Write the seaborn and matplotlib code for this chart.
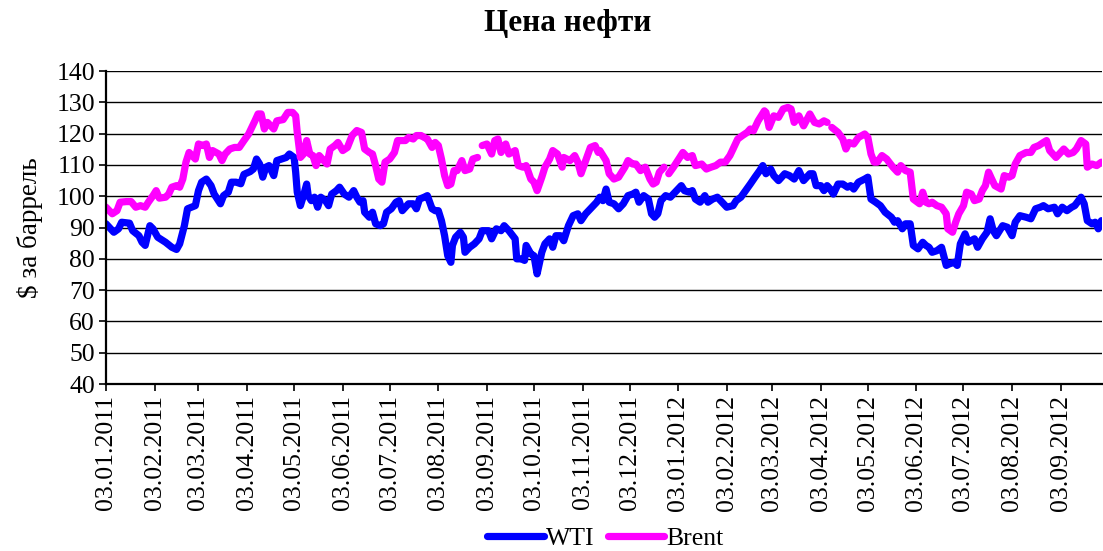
import numpy as np
import pandas as pd
import matplotlib
matplotlib.use("Agg")
import matplotlib.pyplot as plt
from matplotlib.lines import Line2D
import seaborn as sns

# ---------------- data ----------------
start_date = "2011-01-03"

wti_day = [0, 5, 8, 10, 15, 17, 21, 23, 25, 28, 30, 33, 38, 42, 45, 47, 50, 52, 57, 59, 61, 64, 67, 69, 73, 75,
           78, 80, 83, 86, 88, 92, 94, 96, 98, 100, 102, 104,
           107, 109, 112, 115, 117, 120, 121, 122, 124, 126, 128, 129, 131, 133, 135, 137, 140, 142, 144, 147, 149,
           152, 155, 158, 160, 162, 164, 165, 168, 170, 172, 175, 177, 179, 182, 185, 187, 189, 193, 196, 198, 200,
           203, 205, 208, 210,
           212, 214, 216, 218, 220, 221, 223, 226, 228, 229, 232, 235, 238, 240, 244, 246, 249, 252, 254, 257, 261,
           262, 265, 267, 268, 271, 273, 275, 278, 280, 283, 285, 287, 290, 292, 295, 298, 301, 303, 306, 309, 313, 315,
           317, 319, 321, 324, 327, 330, 333, 336, 338, 340, 343, 346, 348, 350, 352, 354, 357, 360, 364, 367, 369,
           372, 374, 376, 379, 382, 384, 387, 390, 393, 396, 400, 402, 405, 408, 411, 414, 417, 419,
           421, 424, 426, 429, 433, 436, 439, 442, 445, 449, 451, 453, 456, 458, 460, 462, 464, 467, 470, 473, 475,
           477, 480, 484, 486, 488, 491, 494, 497, 501, 503, 505, 508, 510, 513, 515, 518, 521, 523, 525,
           527, 530, 533, 536, 538, 541, 543, 545, 548, 550, 554, 556, 559, 562, 564, 566, 568, 572, 575, 578, 580,
           583, 587, 590, 593, 596, 598, 601, 605, 607, 610, 613, 616, 618, 622, 624, 626, 629, 631, 633, 635]
wti_val = [91.2, 88.5, 89.6, 91.7, 91.4, 89.0, 87.4, 85.3, 84.3, 90.6, 89.6, 86.9, 85.3, 83.7, 83.0, 84.8, 90.6, 96.0,
           97.0, 101.8, 104.5, 105.5, 103.4, 100.7, 97.6, 100.2, 101.3, 104.5, 104.5, 104.0, 107.0, 107.9, 108.7,
           111.9, 110.3, 106.1, 109.3, 109.8,
           106.6, 111.4, 111.9, 112.4, 113.5, 112.4, 107.7, 101.3, 97.0, 100.2, 103.9, 100.2, 98.6, 99.7, 96.5, 99.7,
           98.6, 97.0, 100.7, 101.8, 102.9, 100.7, 99.7, 101.8, 99.7, 98.1, 98.6, 94.9, 93.3, 94.9, 91.2, 90.6, 91.2,
           94.9, 96.0, 98.1, 98.6, 95.4, 97.6, 97.6, 96.0, 99.1, 99.7, 100.2, 96.0, 95.4,
           95.4, 92.2, 87.4, 81.0, 78.9, 84.3, 86.9, 88.5, 86.9, 82.1, 83.7, 84.8, 86.4, 89.0, 89.0, 86.4, 89.6, 89.0,
           90.6, 89.0, 86.4, 80.0, 80.0, 79.5, 84.3, 81.6, 81.0, 75.2, 82.1, 84.8, 86.4, 83.7, 87.4, 87.4, 85.8, 90.6,
           93.8, 94.4, 92.2, 94.4, 96.0, 98.1, 99.7,
           98.6, 102.3, 98.1, 97.6, 96.0, 97.6, 100.2, 100.7, 101.3, 98.1, 100.2, 99.1, 94.4, 93.3, 94.4, 98.6, 100.2,
           99.7, 101.8, 103.4, 101.8, 101.3, 101.8, 99.1, 98.1, 100.2, 98.1, 99.1, 99.7, 98.1, 96.5, 97.0, 98.6, 99.7,
           101.8, 103.9, 106.1, 108.2, 109.8,
           107.2, 108.7, 106.6, 105.0, 107.2, 106.6, 105.5, 108.2, 105.0, 107.2, 107.2, 103.4, 103.4, 101.8, 103.4,
           102.3, 100.7, 103.9, 103.9, 102.9, 103.4, 102.3, 104.5, 105.5, 106.1, 99.1, 98.1, 97.0, 94.9, 93.3, 91.7,
           92.2, 89.6, 91.2, 91.2, 84.3, 83.2, 85.3, 84.3, 83.7,
           82.1, 82.6, 83.7, 77.9, 78.4, 78.9, 77.9, 84.8, 88.0, 85.3, 86.4, 83.7, 86.4, 88.5, 92.8, 89.0, 87.4, 90.6,
           90.1, 87.4, 91.7, 93.8, 93.3, 92.8, 96.0, 96.5, 97.0, 96.0, 96.5, 94.4, 96.5, 95.4, 96.5, 97.0, 99.7, 97.6,
           92.2, 91.2, 91.7, 89.6, 92.2]

brent_day = [0, 4, 7, 9, 13, 16, 19, 22, 25, 27, 30, 32, 34, 38, 40, 42, 45, 47, 49, 51, 53, 57, 59, 62, 64, 66, 68,
             72, 74, 76, 79, 82, 85, 88, 91, 93, 95, 97, 99, 101, 103,
             107, 109, 113, 116, 119, 121, 122, 124, 126, 128, 130, 132, 134, 136, 138, 141, 143, 146, 148, 151, 154,
             157, 160, 163, 165, 168, 170, 172, 174, 176, 178, 181, 184, 186, 191, 193, 196, 198, 201, 203, 205, 208,
             210,
             212, 214, 216, 218, 220, 222, 224, 227, 229, 232, 234, 237, 238, 240, 243, 246, 248, 250, 252, 255, 257,
             261, 263, 266, 268, 271, 273, 275, 278, 280, 283, 285, 288, 291, 292, 296, 299, 301, 303, 306, 309, 312,
             314, 315,
             317, 319, 321, 324, 327, 331, 333, 336, 338, 341, 344, 347, 349, 351, 353, 356, 358, 359, 362, 366, 368,
             371, 374, 376, 380, 383, 386, 389, 392, 395, 398, 400, 403, 406, 409, 411, 413, 416, 418, 420,
             421, 423, 426, 429, 432, 435, 437, 439, 442, 445, 449, 452, 455, 458, 460, 461, 463, 467, 470, 472, 474,
             477, 480, 484, 486, 488, 490, 492, 495, 498, 502, 505, 507, 510, 513, 515, 519, 521, 523, 525,
             527, 530, 533, 536, 537, 540, 542, 544, 547, 549, 552, 554, 557, 559, 561, 563, 565, 567, 571, 573, 576,
             578, 580, 583, 587, 590, 592, 595, 598, 600, 602, 606, 609, 611, 614, 617, 619, 622, 625, 626, 629, 632,
             635]
brent_val = [96.5, 94.4, 95.4, 98.1, 98.3, 98.3, 96.5, 97.0, 96.5, 98.1, 100.2, 101.8, 99.4, 99.7, 100.7, 102.9, 103.4,
             102.9, 105.5, 110.9, 114.0, 111.9, 116.7, 116.2, 116.7, 112.4, 114.6, 113.5, 111.4, 113.5, 115.1, 115.6,
             115.6, 117.8, 119.9, 122.0, 124.1, 126.3, 126.3, 121.5, 123.6,
             121.5, 124.1, 124.5, 126.8, 126.8, 125.7, 120.4, 112.4, 113.5, 117.8, 113.5, 113.0, 109.8, 113.0, 111.9,
             110.3, 115.1, 116.2, 117.2, 114.6, 115.6, 119.4, 121.0, 120.4, 115.1, 114.0, 113.5, 109.8, 105.5, 104.5,
             110.9, 111.9, 114.0, 117.8, 117.8, 118.8, 118.3, 119.4, 119.4, 118.8, 118.3, 115.6, 117.2,
             116.2, 111.9, 106.6, 103.4, 103.9, 108.2, 108.2, 111.4, 108.2, 108.7, 111.9, 112.4, None, 116.2, 116.7,
             113.5, 117.8, 118.3, 114.0, 116.7, 113.5, 114.6, 109.8, 109.3, 109.8, 105.5, 104.5, 101.8, 106.1, 109.3,
             111.9, 114.6, 113.5, 109.3, 112.4, 111.4, 113.0, 110.9, 107.2, 111.4, 115.6, 116.2, 114.0, 114.6,
             113.0, 111.4, 107.2, 105.5, 106.1, 109.3, 111.4, 110.3, 110.3, 108.2, 109.3, 105.5, 103.9, 104.5, 107.7,
             109.3, None, 107.2, 109.3, 112.4, 114.0, 112.4, 113.0, 109.8, 110.3, 108.7, 109.3, 109.8, 110.9, 110.9,
             113.0, 115.1, 118.3, 119.4, 120.4, 121.5, 120.9, 124.1, 125.7, 127.3,
             126.8, 122.0, 125.7, 125.2, 127.9, 128.4, 127.9, 123.6, 125.7, 122.5, 126.3, 123.6, 123.1, 124.1, 123.6,
             None, 122.0, 120.4, 118.3, 115.1, 117.2, 116.7, 118.8, 119.9, 118.8, 113.5, 110.9, 110.9, 113.0, 111.9,
             109.3, 107.7, 109.8, 108.2, 107.7, 99.1, 97.6, 101.3, 98.1, 97.6,
             98.1, 97.0, 96.5, 94.4, 89.6, 88.5, 91.7, 94.4, 97.0, 101.3, 100.7, 98.6, 99.1, 101.8, 103.4, 107.7, 105.5,
             103.4, 102.3, 106.6, 106.1, 106.6, 110.3, 113.0, 114.0, 114.0, 115.6, 116.2, 117.2, 117.8, 114.6, 112.4,
             114.0, 115.1, 113.5, 114.0, 115.1, 117.8, 116.7, 109.3, 110.3, 109.8, 110.9]

series_names = ["WTI", "Brent"]
series_colors = ["#0000FF", "#FF00FF"]

tick_labels = ["03.01.2011", "03.02.2011", "03.03.2011", "03.04.2011", "03.05.2011", "03.06.2011",
               "03.07.2011", "03.08.2011", "03.09.2011", "03.10.2011", "03.11.2011", "03.12.2011",
               "03.01.2012", "03.02.2012", "03.03.2012", "03.04.2012", "03.05.2012", "03.06.2012",
               "03.07.2012", "03.08.2012", "03.09.2012"]
y_ticks = [40, 50, 60, 70, 80, 90, 100, 110, 120, 130, 140]

title = "Цена нефти"
y_label = "$ за баррель"

# ---------------- build frames ----------------
t0 = pd.Timestamp(start_date)


def make_frame(days, vals, name):
    df = pd.DataFrame({"day": days, "value": [np.nan if v is None else v for v in vals]})
    df["date"] = t0 + pd.to_timedelta(df["day"], unit="D")
    df["series"] = name
    # segment id: break at missing values
    df["seg"] = df["value"].isna().cumsum()
    return df.dropna(subset=["value"])


frames = [make_frame(wti_day, wti_val, "WTI"), make_frame(brent_day, brent_val, "Brent")]

# ---------------- style ----------------
sns.set_theme(style="white")
plt.rcParams["font.family"] = ["Liberation Serif", "DejaVu Serif"]
plt.rcParams["mathtext.default"] = "regular"
for key in ["text.color", "axes.labelcolor", "xtick.color", "ytick.color"]:
    plt.rcParams[key] = "black"

fig = plt.figure(figsize=(11.03, 5.51), dpi=100)
ax = fig.add_axes([0.0961, 0.303, 0.9029, 0.568])

lw = 5.2
for df, color in zip(frames, series_colors):
    for _, seg in df.groupby("seg"):
        sns.lineplot(data=seg, x="date", y="value", ax=ax, color=color, linewidth=lw,
                     legend=False, estimator=None, sort=False,
                     solid_capstyle="round", solid_joinstyle="round")

ax.set_ylim(40, 140)
ax.set_yticks(y_ticks)
ax.set_yticklabels([str(v) for v in y_ticks], fontsize=18.5)
tick_dates = pd.to_datetime(tick_labels, format="%d.%m.%Y")
ax.set_xticks(tick_dates)
ax.set_xticklabels(tick_labels, rotation=90, fontsize=18.5)
ax.set_xlim(t0, t0 + pd.Timedelta(days=635.3))

ax.grid(axis="y", color="black", linewidth=1.0)
ax.grid(axis="x", visible=False)
ax.set_axisbelow(True)
for side in ["top", "right"]:
    ax.spines[side].set_visible(False)
for side in ["left", "bottom"]:
    ax.spines[side].set_color("black")
    ax.spines[side].set_linewidth(1.6)
ax.tick_params(axis="both", which="both", direction="out", length=5, width=1.2, color="black",
               bottom=True, left=True, pad=3)
ax.set_xlabel("")
ax.set_ylabel("")

fig.text(0.027, 0.587, y_label, rotation=90, ha="center", va="center", fontsize=19.5)
fig.text(0.515, 0.958, title, ha="center", va="center", fontsize=22.5, fontweight="bold")

handles = [Line2D([0], [0], color=c, linewidth=lw, solid_capstyle="round") for c in series_colors]
fig.legend(handles, series_names, loc="center", bbox_to_anchor=(0.549, 0.022), ncol=2, frameon=False,
           fontsize=18.5, handlelength=2.2, handletextpad=0.1, columnspacing=0.5)

fig.savefig("out.png", dpi=100)
